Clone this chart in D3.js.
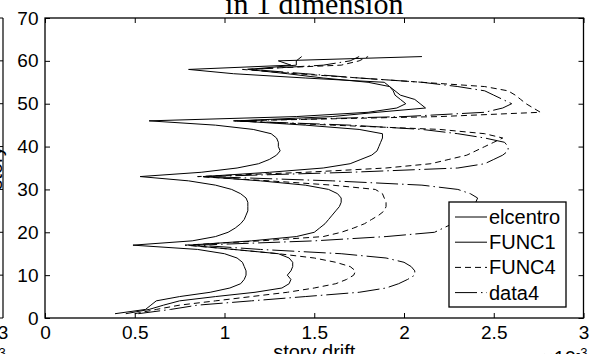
<!DOCTYPE html>
<html>
<head>
<meta charset="utf-8">
<script src="https://cdn.jsdelivr.net/npm/d3@7"></script>
<style>
  body { margin: 0; background: #fff; }
  svg { display: block; }
  text { font-family: "Liberation Sans", Arial, sans-serif; fill: #000; }
</style>
</head>
<body>
<div id="chart"></div>
<script>
// stories 1..61, drift in units of 1e-3
const stories = d3.range(1, 62);

const elcentro = [
  0.39, 0.56, 0.59, 0.62, 0.75, 0.92, 1.03, 1.09, 1.11, 1.12,
  1.12, 1.11, 1.10, 1.07, 1.00, 0.85, 0.49, 0.82, 0.95, 1.02,
  1.06, 1.09, 1.11, 1.12, 1.13, 1.13, 1.13, 1.12, 1.09, 1.04,
  0.95, 0.80, 0.53, 0.87, 1.07, 1.19, 1.25, 1.29, 1.31, 1.30,
  1.30, 1.29, 1.26, 1.16, 0.95, 0.58, 1.40, 1.80, 1.96, 2.01,
  1.98, 1.95, 1.94, 1.92, 1.89, 1.45, 1.05, 0.80, 1.37, 1.30,
  2.10
];

const func1 = [
  0.45, 0.58, 0.66, 0.75, 0.95, 1.17, 1.32, 1.36, 1.37, 1.35,
  1.37, 1.38, 1.38, 1.36, 1.30, 1.05, 0.80, 1.15, 1.40, 1.50,
  1.53, 1.56, 1.58, 1.60, 1.62, 1.64, 1.65, 1.65, 1.63, 1.58,
  1.45, 1.20, 0.88, 1.25, 1.55, 1.70, 1.76, 1.82, 1.85, 1.86,
  1.87, 1.88, 1.88, 1.75, 1.45, 1.07, 1.60, 1.85, 2.12, 2.09,
  2.06, 1.98, 1.95, 1.92, 1.80, 1.55, 1.35, 1.13, 1.40, 1.40,
  1.43
];

const func4 = [
  0.50, 0.62, 0.75, 0.95, 1.15, 1.35, 1.50, 1.62, 1.68, 1.72,
  1.73, 1.70, 1.62, 1.50, 1.30, 1.05, 0.78, 1.20, 1.55, 1.65,
  1.72, 1.78, 1.82, 1.86, 1.89, 1.90, 1.90, 1.89, 1.88, 1.84,
  1.60, 1.25, 0.85, 1.45, 1.90, 2.15, 2.25, 2.35, 2.40, 2.45,
  2.50, 2.55, 2.45, 2.20, 1.60, 1.05, 2.20, 2.76, 2.72, 2.68,
  2.65, 2.62, 2.58, 2.45, 2.10, 1.75, 1.40, 1.10, 1.65, 1.75,
  1.80
];

const data4 = [
  0.52, 0.70, 0.85, 1.15, 1.45, 1.75, 1.90, 1.97, 2.02, 2.06,
  2.06, 2.04, 2.00, 1.90, 1.65, 1.20, 0.85, 1.50, 1.90, 2.17,
  2.22, 2.27, 2.30, 2.32, 2.34, 2.36, 2.40, 2.41, 2.37, 2.30,
  2.10, 1.60, 0.90, 1.70, 2.30, 2.45, 2.50, 2.55, 2.58, 2.58,
  2.56, 2.45, 2.30, 2.10, 1.70, 1.05, 2.00, 2.45, 2.55, 2.60,
  2.55, 2.50, 2.45, 2.30, 2.10, 1.75, 1.45, 1.15, 1.55, 1.70,
  1.75
];

const seriesNames = ["elcentro", "FUNC1", "FUNC4", "data4"];
const seriesDash = [null, null, "6,4", "22,4,1.5,4"];
const xTicks = [0, 0.5, 1, 1.5, 2, 2.5, 3];
const yTicks = [0, 10, 20, 30, 40, 50, 60, 70];

const W = 596, H = 354;
const margin = { left: 45, right: 12.5, top: 18, bottom: 36 };
const width = W - margin.left - margin.right,
    height = H - margin.top - margin.bottom;

const svg = d3.select("#chart").append("svg")
    .attr("width", W)
    .attr("height", H);

// cropped neighbour subplot at left edge
const left = svg.append("g");
left.append("line")
    .attr("x1", 3).attr("x2", 3)
    .attr("y1", margin.top).attr("y2", margin.top + height)
    .attr("stroke", "#000").attr("stroke-width", 1.2);
left.append("line").attr("x1", -2).attr("x2", 3)
    .attr("y1", margin.top).attr("y2", margin.top).attr("stroke", "#000");
left.append("line").attr("x1", -2).attr("x2", 3)
    .attr("y1", margin.top + height).attr("y2", margin.top + height).attr("stroke", "#000");
left.selectAll(".lt").data(yTicks.slice(1, -1)).enter().append("line")
    .attr("x1", 0).attr("x2", 3)
    .attr("y1", d => margin.top + height - d / 70 * height)
    .attr("y2", d => margin.top + height - d / 70 * height)
    .attr("stroke", "#000");
left.append("text").attr("x", 3).attr("y", 339)
    .attr("text-anchor", "middle").style("font-size", "19px").text("3");
left.append("text").attr("x", 2).attr("y", 357)
    .attr("text-anchor", "middle").style("font-size", "13px").text("3");
// ylabel of this plot, mostly cropped away
left.append("text")
    .attr("transform", "translate(1.5,168) rotate(-90)")
    .attr("text-anchor", "middle").style("font-size", "20px").text("story");

const main = svg.append("g")
    .attr("transform", "translate(" + margin.left + "," + margin.top + ")");

const xScale = d3.scaleLinear().domain([0, 3]).range([0, width]);
const yScale = d3.scaleLinear().domain([0, 70]).range([height, 0]);

// axes, ticks pointing inward on all four sides
main.append("g")
    .attr("transform", "translate(0," + height + ")")
    .call(d3.axisBottom(xScale).tickValues(xTicks).tickSizeInner(-5).tickSizeOuter(0).tickPadding(7.5)
        .tickFormat(d3.format("")))
    .call(g => g.select(".domain").remove())
    .selectAll("text").style("font-size", "19px");

main.append("g")
    .call(d3.axisTop(xScale).tickValues(xTicks).tickSizeInner(-5).tickSizeOuter(0).tickFormat(""))
    .call(g => g.select(".domain").remove());

main.append("g")
    .call(d3.axisLeft(yScale).tickValues(yTicks).tickSizeInner(-5).tickSizeOuter(0).tickPadding(6.5))
    .call(g => g.select(".domain").remove())
    .selectAll("text").style("font-size", "19px");

main.append("g")
    .attr("transform", "translate(" + width + ",0)")
    .call(d3.axisRight(yScale).tickValues(yTicks).tickSizeInner(-5).tickSizeOuter(0).tickFormat(""))
    .call(g => g.select(".domain").remove());

main.selectAll(".tick line").attr("stroke", "#000");

const line = d3.line()
    .x(d => xScale(d[0]))
    .y(d => yScale(d[1]));

const allSeries = [elcentro, func1, func4, data4];

main.append("g").selectAll("path")
    .data(allSeries)
    .enter().append("path")
    .attr("d", d => line(d.map((v, i) => [v, stories[i]])))
    .attr("fill", "none")
    .attr("stroke", "#000")
    .attr("stroke-width", 1)
    .attr("stroke-dasharray", (d, i) => seriesDash[i]);

// plot box
main.append("rect")
    .attr("width", width).attr("height", height)
    .attr("fill", "none").attr("stroke", "#000").attr("stroke-width", 1.3);

// legend
const lg = svg.append("g").attr("transform", "translate(449,202)");
lg.append("rect")
    .attr("width", 117).attr("height", 105)
    .attr("fill", "#fff").attr("stroke", "#000").attr("stroke-width", 1.3);
seriesNames.forEach((name, i) => {
    const cy = 15 + i * 25.2;
    lg.append("line")
        .attr("x1", 6).attr("x2", 38)
        .attr("y1", cy).attr("y2", cy)
        .attr("stroke", "#000").attr("stroke-width", 1)
        .attr("stroke-dasharray", seriesDash[i]);
    lg.append("text")
        .attr("x", 40).attr("y", cy + 7)
        .style("font-size", "20px").text(name);
});

// title (second line, top cropped)
svg.append("text")
    .attr("x", margin.left + width / 2).attr("y", 14)
    .attr("text-anchor", "middle")
    .style("font-family", "'Liberation Serif', 'Times New Roman', serif")
    .style("font-size", "30px")
    .text("in 1 dimension");

// x label (bottom cropped)
svg.append("text")
    .attr("x", margin.left + width / 2).attr("y", 359)
    .attr("text-anchor", "middle")
    .style("font-size", "20px").text("story drift");

// exponent
svg.append("text")
    .attr("x", 576).attr("y", 365)
    .attr("text-anchor", "end")
    .style("font-size", "20px").text("×10");
svg.append("text")
    .attr("x", 576).attr("y", 357)
    .style("font-size", "13px").text("-3");
</script>
</body>
</html>
